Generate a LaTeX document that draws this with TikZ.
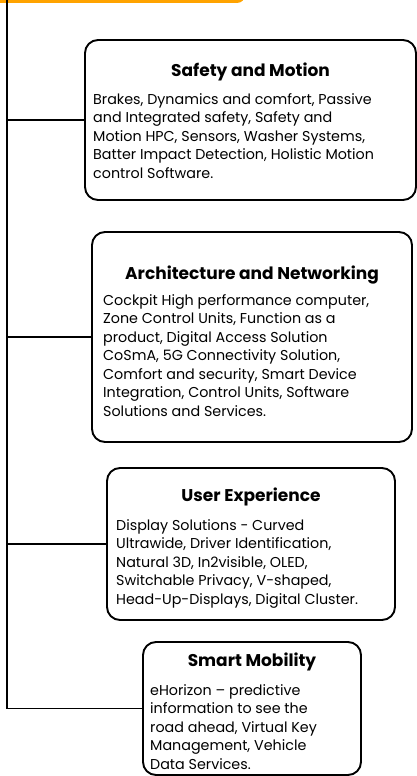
\documentclass[tikz,border=0pt]{standalone}
\usepackage{fontspec}
\setmainfont{Poppins}
\definecolor{bannerorange}{RGB}{255,163,0}

\begin{document}
\begin{tikzpicture}[x=1pt, y=-1pt,
    catbox/.style={rectangle, draw, line width=1.9pt, rounded corners=13pt, fill=white},
    cattitle/.style={font=\fontsize{17}{19}\selectfont\bfseries},
    catbody/.style={anchor=north west, align=left, inner sep=0pt, font=\fontsize{14.3}{18.5}\selectfont},
    trunk/.style={line width=1.9pt}
]
    \useasboundingbox (0,0) rectangle (417,776);

    % Orange banner cut by the top edge
    \node[fill=bannerorange, rounded corners=8pt, minimum width=265pt, minimum height=43pt] (banner) at (112.5,-18.5) {};

    % Category boxes
    \node[catbox, minimum width=331pt, minimum height=160pt] (safe) at (250.5,120) {};
    \node[catbox, minimum width=320pt, minimum height=210pt] (arch) at (252,337) {};
    \node[catbox, minimum width=288pt, minimum height=152pt] (ux) at (251,544) {};
    \node[catbox, minimum width=218pt, minimum height=133pt] (mob) at (252,708.5) {};

    % Titles
    \node[cattitle] (safetitle) at (250.5,72) {Safety and Motion};
    \node[cattitle] (archtitle) at (252,275) {Architecture and Networking};
    \node[cattitle] (uxtitle) at (251,497) {User Experience};
    \node[cattitle] (mobtitle) at (252,662) {Smart Mobility};

    % Body texts
    \node[catbody] (safetext) at (93,93) {Brakes, Dynamics and comfort, Passive\\and Integrated safety, Safety and\\Motion HPC, Sensors, Washer Systems,\\Batter Impact Detection, Holistic Motion\\control Software.};
    \node[catbody] (archtext) at (103,294) {Cockpit High performance computer,\\Zone Control Units, Function as a\\product, Digital Access Solution\\CoSmA, 5G Connectivity Solution,\\Comfort and security, Smart Device\\Integration, Control Units, Software\\Solutions and Services.};
    \node[catbody] (uxtext) at (116,519) {Display Solutions - Curved\\Ultrawide, Driver Identification,\\Natural 3D, In2visible, OLED,\\Switchable Privacy, V-shaped,\\Head-Up-Displays, Digital Cluster.};
    \node[catbody] (mobtext) at (150,684) {eHorizon -- predictive\\information to see the\\road ahead, Virtual Key\\Management, Vehicle\\Data Services.};

    % Trunk and branches
    \coordinate (top) at (7,-10);
    \draw[trunk] (top) |- (mob.west);
    \foreach \b in {safe, arch, ux}
        \draw[trunk] (top |- \b.west) -- (\b.west);

\end{tikzpicture}
\end{document}
